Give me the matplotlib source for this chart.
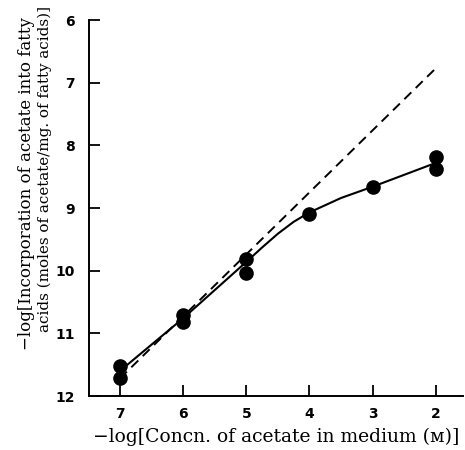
import matplotlib
matplotlib.use('Agg')
import matplotlib.pyplot as plt

# measured points (duplicates at same concentration)
conc = [7, 7, 6, 6, 5, 5, 4, 3, 2, 2]
incorp = [11.52, 11.71, 10.70, 10.82, 9.82, 10.03, 9.09, 8.67, 8.19, 8.38]

# solid curve drawn through the points
curve_x = [7, 6.5, 6, 5.5, 5, 4.75, 4.5, 4.25, 4, 3.5, 3, 2.5, 2]
curve_y = [11.6, 11.18, 10.76, 10.31, 9.86, 9.63, 9.41, 9.22, 9.07, 8.84, 8.66, 8.47, 8.28]

# dashed line (theoretical slope)
dash_x = [7, 2]
dash_y = [11.72, 6.77]

xticks = [7, 6, 5, 4, 3, 2]
yticks = [6, 7, 8, 9, 10, 11, 12]

fig = plt.figure(figsize=(4.65, 4.5), dpi=100)
ax = fig.add_axes([89 / 465, 54 / 450, (463 - 89) / 465, (396 - 20) / 450])

ax.plot(dash_x, dash_y, color='black', lw=1.4, dashes=(5, 3.2))
ax.plot(curve_x, curve_y, color='black', lw=1.5)
ax.plot(conc, incorp, 'o', color='black', ms=9.5)

ax.set_xlim(7.49, 1.57)
ax.set_ylim(12.0, 6.0)
ax.set_xticks(xticks)
ax.set_yticks(yticks)
ax.set_xticklabels([str(v) for v in xticks], family='DejaVu Sans', fontsize=10, fontweight='bold')
ax.set_yticklabels([str(v) for v in yticks], family='DejaVu Sans', fontsize=10, fontweight='bold')
ax.tick_params(direction='in', length=8, width=1.3, pad=8)
ax.tick_params(axis='y', pad=10)

for s in ['top', 'right']:
    ax.spines[s].set_visible(False)
for s in ['left', 'bottom']:
    ax.spines[s].set_linewidth(1.4)

ax.set_xlabel('\u2212log[Concn. of acetate in medium (\u1d0d)]', family='DejaVu Serif', fontsize=13.5, labelpad=5)

fig.text(27 / 465, 1 - 184 / 450, '\u2212log[Incorporation of acetate into fatty',
         family='DejaVu Serif', fontsize=12.0, rotation=90, ha='center', va='center')
fig.text(45 / 465, 1 - 169 / 450, 'acids (moles of acetate/mg. of fatty acids)]',
         family='DejaVu Serif', fontsize=10.9, rotation=90, ha='center', va='center')

fig.savefig('out.png', dpi=100)
